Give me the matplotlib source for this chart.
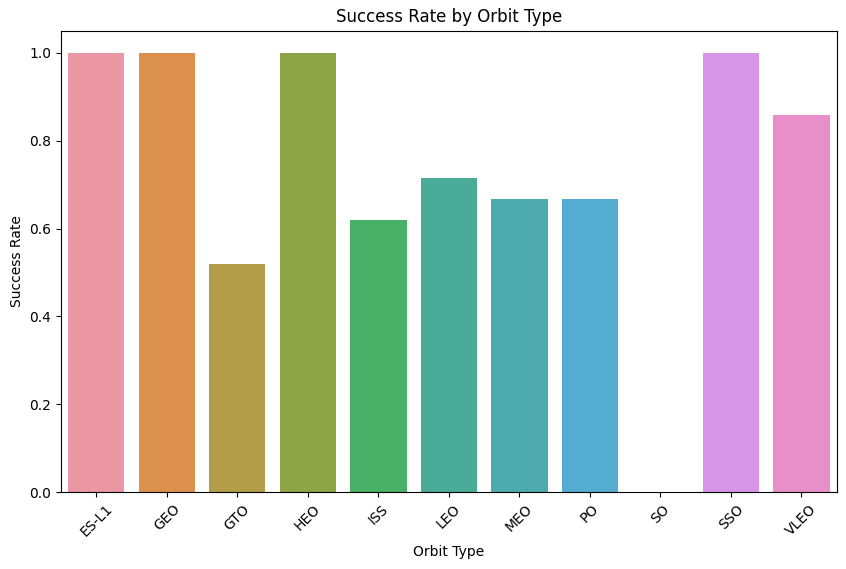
import matplotlib
matplotlib.use("Agg")
import matplotlib.pyplot as plt
import seaborn as sns
import pandas as pd

orbits = ["ES-L1", "GEO", "GTO", "HEO", "ISS", "LEO", "MEO", "PO", "SO", "SSO", "VLEO"]
success_rate = [1.0, 1.0, 0.518519, 1.0, 0.619048, 0.714286, 0.666667, 0.666667, 0.0, 1.0, 0.857143]

df = pd.DataFrame({"Orbit": orbits, "Class": success_rate})

fig = plt.figure(figsize=(8.46, 5.69), dpi=100)
ax = fig.add_axes([0.0721, 0.1348, 0.9169, 0.8113])
palette = sns.husl_palette(len(orbits), l=.7)
sns.barplot(data=df, x="Orbit", y="Class", hue="Orbit", palette=palette, legend=False, ax=ax, saturation=0.75)
ax.set_title("Success Rate by Orbit Type")
ax.set_xlabel("Orbit Type")
ax.set_ylabel("Success Rate")
plt.setp(ax.get_xticklabels(), rotation=45)
fig.savefig("out.png", dpi=100)
